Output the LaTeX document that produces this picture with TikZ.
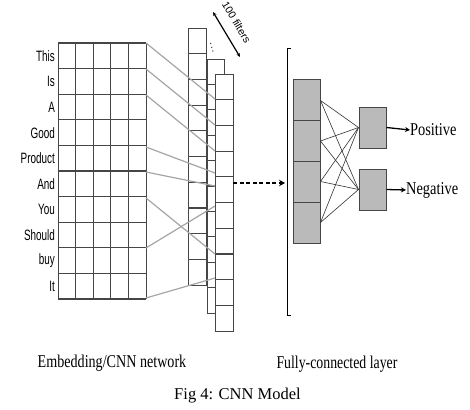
\documentclass[tikz,border=0pt]{standalone}
\usepackage{fontspec}
\setmainfont{Liberation Serif}
\setsansfont{Liberation Sans}
\usetikzlibrary{arrows.meta}
\definecolor{cellgray}{RGB}{186,186,186}
\definecolor{linegray}{RGB}{165,165,165}
\definecolor{edgegray}{RGB}{70,70,70}
\begin{document}
\begin{tikzpicture}[x=1pt,y=-1pt,
  hline/.style={draw=edgegray,line width=1.2pt},
  vline/.style={draw=edgegray,line width=0.8pt},
  colbox/.style={draw=edgegray,fill=white,line width=0.8pt},
  word/.style={anchor=east,inner sep=0pt,font=\sffamily\fontsize{15}{17}\selectfont,xscale=0.66},
  conn/.style={draw=linegray,line width=1.2pt},
  fcell/.style={draw=edgegray,fill=cellgray,line width=1pt,minimum width=27pt,minimum height=41pt,inner sep=0pt},
  fcline/.style={draw=black!80,line width=0.6pt},
  outarrow/.style={draw=black,line width=1.3pt,-{Stealth[length=5pt,width=5pt]}},
  label/.style={font=\fontsize{18}{20}\selectfont,inner sep=0pt,xscale=0.8},
  ]
\useasboundingbox (0,0) rectangle (470,409);

% embedding grid
\foreach \i in {0,...,10} \draw[hline] (58,{43+\i*25.6}) -- (146,{43+\i*25.6});
\foreach \j in {0,...,5} \draw[vline] ({58+\j*17.6},43) -- ({58+\j*17.6},299);

\foreach \w [count=\i from 0] in {This,Is,A,Good,Product,And,You,Should,buy,It}
  \node[word] (w\i) at (55,{56+\i*25.6}) {\w};

% filter columns
\draw[colbox] (188,28) rectangle (206,285);
\foreach \i in {1,...,9} \draw[hline] (188,{28+\i*25.7}) -- (206,{28+\i*25.7});
\draw[colbox] (207,59) rectangle (224,313);
\foreach \i in {1,...,9} \draw[hline] (207,{59+\i*25.4}) -- (224,{59+\i*25.4});
\draw[colbox] (215,74) rectangle (233,331);
\foreach \i in {1,...,9} \draw[hline] (215,{74+\i*25.7}) -- (233,{74+\i*25.7});

% dots and 100 filters
\foreach \p in {(210.5,43.5),(211.7,47.3),(212.9,51)} \fill[edgegray] \p circle (0.75pt);
\coordinate (fa) at (213,12);
\coordinate (fb) at (240,57);
\draw[line width=1.2pt,{Stealth[length=4pt,width=3.5pt]}-{Stealth[length=4pt,width=3.5pt]}] (fa) -- (fb);
\node[rotate=-59,inner sep=0pt,font=\sffamily\fontsize{10.5}{12}\selectfont] (filt) at (236.5,22.5) {100 filters};

% connectors embedding -> columns
\foreach \a/\b [count=\k] in {43/99,69/125,95/151,147/173,172/186,198/254,248/206,298/278} {
  \coordinate (e\k) at (146,\a);
  \coordinate (t\k) at (215,\b);
  \draw[conn] (e\k) -- (t\k);
}

% dashed arrow and bracket
\coordinate (cout) at (233,183);
\coordinate (bin) at (285,183);
\draw[line width=2.2pt,dash pattern=on 4pt off 2.5pt,-{Stealth[length=6pt,width=6.5pt]}] (cout) -- (bin);
\draw[line width=1pt] (291,49) -- (287,49) -- (287,315) -- (291,315);

% fully connected cells
\foreach \i/\y in {1/100.5,2/141,3/181.5,4/222.5}
  \node[fcell] (f\i) at (306.5,\y) {};
\node[fcell] (o1) at (372.5,127.5) {};
\node[fcell] (o2) at (372.5,189.5) {};
\foreach \i in {1,...,4} {
  \draw[fcline] (f\i.east) -- (o1.west);
  \draw[fcline] (f\i.east) -- (o2.west);
}
\node[label,anchor=west] (pos) at (410,130) {Positive};
\node[label,anchor=west] (neg) at (406,190) {Negative};
\draw[outarrow] (o1.east) -- (pos.west);
\draw[outarrow] (o2.east) -- (neg.west);

% captions
\node[label,xscale=0.98] (emb) at (112,363) {Embedding/CNN network};
\node[label,xscale=0.96] (fcl) at (337,364) {Fully-connected layer};
\node[font=\fontsize{16.5}{18}\selectfont,inner sep=0pt] (cap) at (237.5,396) {Fig 4: CNN Model};
\end{tikzpicture}
\end{document}
